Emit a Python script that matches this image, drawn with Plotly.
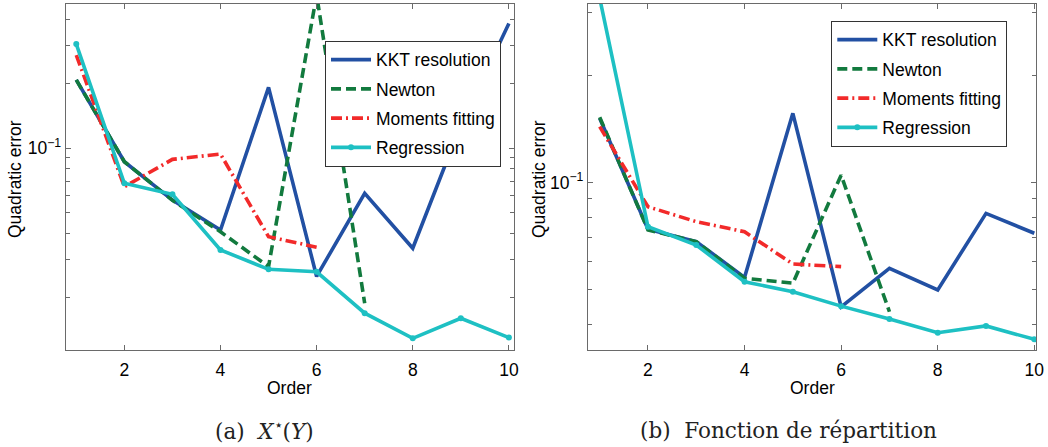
import plotly.graph_objects as go

orders = [1, 2, 3, 4, 5, 6, 7, 8, 9, 10]

# Panel (a): X*(Y)
kkt_a = [0.208, 0.0863, 0.0571, 0.0414, 0.192, 0.0251, 0.0614, 0.034, 0.128, 0.382]
newton_a = [0.208, 0.0863, 0.057, 0.0406, 0.0279, 0.52, 0.0188]
moments_a = [0.272, 0.0659, 0.0885, 0.0937, 0.0385, 0.0344]
regression_a = [0.306, 0.0684, 0.0608, 0.0334, 0.0271, 0.0264, 0.0169, 0.0129, 0.016, 0.013]

# Panel (b): Fonction de répartition
kkt_b = [0.1517, 0.074, 0.0683, 0.0542, 0.1566, 0.0448, 0.0575, 0.0500, 0.082, 0.0721]
newton_b = [0.1527, 0.0737, 0.0683, 0.0539, 0.0522, 0.105, 0.0434]
moments_b = [0.1437, 0.0856, 0.0777, 0.0728, 0.0591, 0.0581]
regression_b = [0.33, 0.0752, 0.0668, 0.0527, 0.0494, 0.045, 0.0414, 0.0379, 0.0396, 0.0363]

names = ["KKT resolution", "Newton", "Moments fitting", "Regression"]
x_ticks = [2, 4, 6, 8, 10]
y_major = [0.1]
y_major_text = ["10<sup>−1</sup>"]
y_minor = [0.02, 0.03, 0.04, 0.05, 0.06, 0.07, 0.08, 0.09, 0.2, 0.3, 0.4]
captions = ["(a)  <i>X</i><sup>⋆</sup>(<i>Y</i>)", "(b)  Fonction de répartition"]

C_KKT = "#2250a3"
C_NEW = "#127a3e"
C_MOM = "#f22a2a"
C_REG = "#1ec0c3"
FONT = "Liberation Sans"
FS = 17.5

fig = go.Figure()

def add_panel(fig, k, n, m, r, xa, ya, leg):
    fig.add_trace(go.Scatter(x=orders[:len(k)], y=k, mode="lines", name=names[0],
                             line=dict(color=C_KKT, width=3.6), xaxis=xa, yaxis=ya, legend=leg,
                             legendgroup=leg + "k"))
    fig.add_trace(go.Scatter(x=orders[:len(n)], y=n, mode="lines", name=names[1],
                             line=dict(color=C_NEW, width=3.6, dash="10px,5px"), xaxis=xa, yaxis=ya,
                             legend=leg, legendgroup=leg + "n"))
    fig.add_trace(go.Scatter(x=orders[:len(m)], y=m, mode="lines", name=names[2],
                             line=dict(color=C_MOM, width=3.6, dash="11px,4px,2px,4px"), xaxis=xa, yaxis=ya,
                             legend=leg, legendgroup=leg + "m"))
    fig.add_trace(go.Scatter(x=orders[:len(r)], y=r, mode="lines+markers", name=names[3],
                             line=dict(color=C_REG, width=3.6), marker=dict(size=6, color=C_REG),
                             xaxis=xa, yaxis=ya, legend=leg, legendgroup=leg + "r"))

add_panel(fig, kkt_a, newton_a, moments_a, regression_a, "x", "y", "legend")
add_panel(fig, kkt_b, newton_b, moments_b, regression_b, "x2", "y2", "legend2")

W, H = 1048, 447
def px_x(v):
    return v / W
def px_y(v):
    return 1 - v / H

axis_common = dict(showgrid=False, zeroline=False, showline=True, linecolor="#6a6a6a", linewidth=1.2,
                   mirror="allticks", ticks="inside", ticklen=5, tickcolor="#6a6a6a", tickwidth=1,
                   automargin=False, tickfont=dict(family=FONT, size=FS, color="black"))

minor_y = dict(tickmode="array", tickvals=y_minor, ticks="inside", ticklen=4, tickcolor="#6a6a6a", showgrid=False)

legend_common = dict(xanchor="left", yanchor="top", bgcolor="white", bordercolor="#333333", borderwidth=1,
                     font=dict(family=FONT, size=FS), itemwidth=40, tracegroupgap=3.5,
                     traceorder="grouped")

fig.update_layout(
    width=W, height=H, margin=dict(l=0, r=0, t=0, b=0, autoexpand=False),
    paper_bgcolor="white", plot_bgcolor="white",
    font=dict(family=FONT, size=FS, color="black"),
    xaxis=dict(domain=[px_x(65.7), px_x(513.7)], range=[0.78, 10.1], tickvals=x_ticks, anchor="y",
               ticklabelstandoff=4, **axis_common),
    yaxis=dict(domain=[px_y(350), px_y(4)], type="log", range=[-1.944, -0.327], tickvals=y_major,
               ticktext=y_major_text, anchor="x", minor=minor_y, **axis_common),
    xaxis2=dict(domain=[px_x(588), px_x(1036)], range=[0.758, 10.035], tickvals=x_ticks, anchor="y2",
                ticklabelstandoff=4, **axis_common),
    yaxis2=dict(domain=[px_y(350), px_y(4)], type="log", range=[-1.470, -0.498], tickvals=y_major,
                ticktext=y_major_text, anchor="x2", minor=minor_y, **axis_common),
    legend=dict(x=px_x(325), y=px_y(40.7), **legend_common),
    legend2=dict(x=px_x(831.3), y=px_y(20.7), **legend_common),
)

def ann(text, x, y, angle=0, family=FONT, size=FS, color="black"):
    return dict(text=text, x=px_x(x), y=px_y(y), xref="paper", yref="paper", showarrow=False,
                xanchor="center", yanchor="middle", textangle=angle,
                font=dict(family=family, size=size, color=color))

annotations = [
    ann("Order", 289.7, 388),
    ann("Order", 812, 388),
    ann("Quadratic error", 15, 179, angle=-90),
    ann("Quadratic error", 539, 179, angle=-90),
    ann(captions[0], 264, 430, family="DejaVu Serif", size=21.5, color="#222222"),
    ann(captions[1], 788, 430, family="DejaVu Serif", size=21.5, color="#222222"),
]
fig.update_layout(annotations=annotations)

fig.write_html("out.html")
